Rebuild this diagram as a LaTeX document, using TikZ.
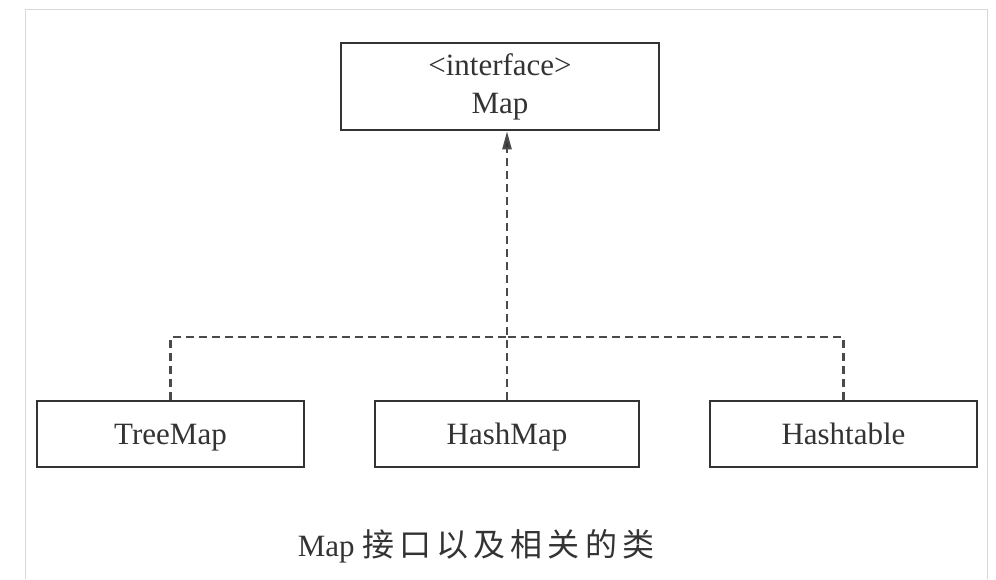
\documentclass[tikz,border=0pt]{standalone}
\usepackage{fontspec}
\setmainfont{Liberation Serif}
\newfontfamily\cjk{Noto Sans CJK SC}[LetterSpace=16]
\usetikzlibrary{arrows.meta}
\definecolor{ink}{HTML}{333333}
\definecolor{dash}{HTML}{4A4A4A}
\definecolor{frame}{HTML}{D8D8D8}
\begin{document}
\begin{tikzpicture}[x=1pt,y=-1pt,
  classbox/.style={draw=ink, line width=2.6pt, minimum height=66pt, inner sep=0pt, text=ink,
    font=\fontsize{31}{38}\selectfont, align=center},
  onerow/.style={text height=21pt, text depth=0pt},
  realize/.style={draw=dash, line width=2.4pt, dash pattern=on 8pt off 5pt}]
\useasboundingbox (0,0) rectangle (996,579);
\draw[frame, line width=0.8pt] (25,579) -- (25,9) -- (987,9) -- (987,579);
\node[classbox, minimum width=318pt, minimum height=87pt] (map) at (500,86.5) {<interface>\\Map};
\node[classbox, onerow, minimum width=267pt] (tree) at (170.5,434) {TreeMap};
\node[classbox, onerow, minimum width=264pt] (hash) at (507,434) {HashMap};
\node[classbox, onerow, minimum width=267pt] (table) at (843.5,434) {Hashtable};
\coordinate (j) at (507,337);
\draw[realize] (tree.north) |- (j);
\draw[realize] (table.north) |- (j);
\draw[realize, -{Triangle[length=18pt,width=9pt,fill=ink]}] (hash.north) -- (hash.north |- map.south);
\node[text=ink, font=\fontsize{31}{36}\selectfont] (cap) at (476,546) {Map {\cjk\fontsize{32}{36}\selectfont 接口以及相关的类}};
\end{tikzpicture}
\end{document}
